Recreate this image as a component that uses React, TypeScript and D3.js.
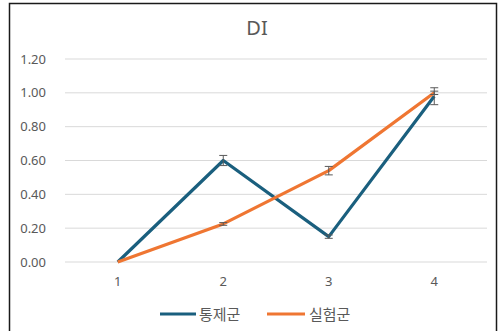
import React from "react";
import * as d3 from "d3";

const categories = ["1", "2", "3", "4"];
const controlValues = [0, 0.6, 0.15, 0.98];
const controlErrors = [0, 0.03, 0.01, 0.05];
const expValues = [0, 0.225, 0.54, 1.0];
const expErrors = [0, 0.008, 0.025, 0.01];
const yTicks = [0, 0.2, 0.4, 0.6, 0.8, 1.0, 1.2];
const seriesNames = ["통제군", "실험군"];
const colors = ["#1a5f7e", "#ef7632"];

export default function App() {
  const W = 502, H = 331;
  const x = d3.scaleBand().domain(categories).range([65, 487]);
  const y = d3.scaleLinear().domain([0, 1.2]).range([262, 59]);
  const font = "'Noto Sans', 'Noto Sans CJK KR', sans-serif";
  const line = d3.line<number>()
    .x((_, i) => (x(categories[i]) as number) + x.bandwidth() / 2)
    .y((d) => y(d));
  const series = [
    { vals: controlValues, errs: controlErrors, color: colors[0] },
    { vals: expValues, errs: expErrors, color: colors[1] },
  ];
  return (
    <svg width={W} height={H} style={{ position: "absolute", left: 0, top: 0 }} fontFamily={font}>
      <rect x={0} y={0} width={W} height={H} fill="#fff" />
      <rect x={9.5} y={3.5} width={487} height={335} fill="#fff" stroke="#1a1a1a" strokeWidth={1.5} />
      <text x={257} y={35} textAnchor="middle" fontSize={20} fill="#595959">DI</text>
      {yTicks.map((t) => (
        <g key={t}>
          <line x1={65} x2={487} y1={y(t)} y2={y(t)} stroke="#d9d9d9" strokeWidth={1} />
          <text x={46} y={y(t) + 4.5} textAnchor="end" fontSize={13} fill="#595959">{t.toFixed(2)}</text>
        </g>
      ))}
      {categories.map((c) => (
        <text key={c} x={(x(c) as number) + x.bandwidth() / 2} y={286} textAnchor="middle" fontSize={13} fill="#595959">{c}</text>
      ))}
      {series.map((s, si) => (
        <path key={si} d={line(s.vals) || ""} fill="none" stroke={s.color} strokeWidth={3.2} strokeLinejoin="round" />
      ))}
      {series.map((s, si) => (
        <g key={"e" + si}>
          {s.vals.map((v, i) => {
            const e = s.errs[i];
            if (!e) return null;
            const cx = (x(categories[i]) as number) + x.bandwidth() / 2;
            return (
              <g key={i} stroke="#595959" strokeWidth={1}>
                <line x1={cx} x2={cx} y1={y(v + e)} y2={y(v - e)} />
                <line x1={cx - 4} x2={cx + 4} y1={y(v + e)} y2={y(v + e)} />
                <line x1={cx - 4} x2={cx + 4} y1={y(v - e)} y2={y(v - e)} />
              </g>
            );
          })}
        </g>
      ))}
      <g>
        <line x1={160} x2={196} y1={314} y2={314} stroke={colors[0]} strokeWidth={3.2} />
        <text x={199} y={319.5} fontSize={15} fill="#595959">{seriesNames[0]}</text>
        <line x1={267} x2={305} y1={314} y2={314} stroke={colors[1]} strokeWidth={3.2} />
        <text x={309} y={319.5} fontSize={15} fill="#595959">{seriesNames[1]}</text>
      </g>
    </svg>
  );
}
